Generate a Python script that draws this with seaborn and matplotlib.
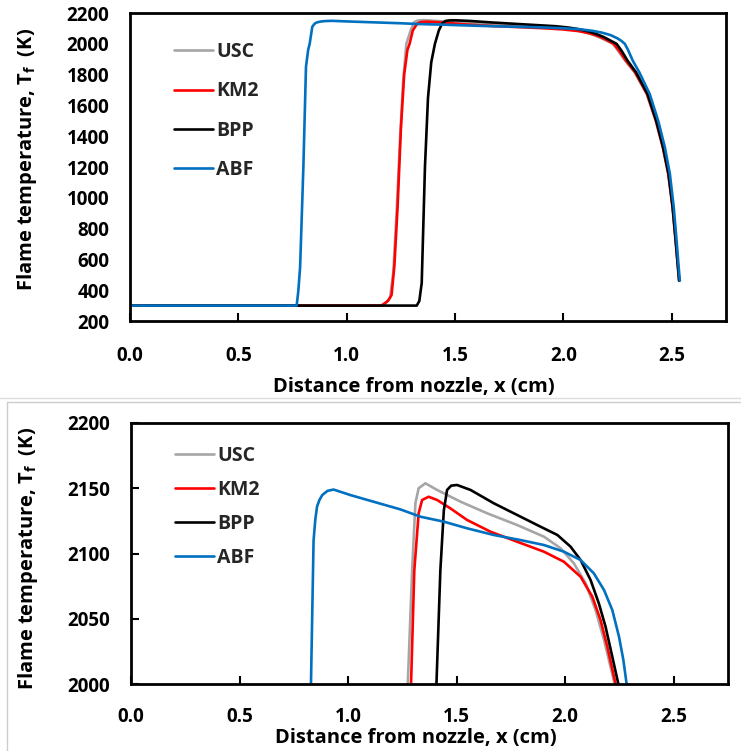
import numpy as np
import pandas as pd
import matplotlib
matplotlib.use("Agg")
import matplotlib.pyplot as plt
from matplotlib.lines import Line2D
import seaborn as sns

# ---------------- data ----------------
usc_x = [0, 1.17, 1.20, 1.215, 1.23, 1.245, 1.26, 1.275, 1.295, 1.31, 1.325, 1.356,
         1.41, 1.518, 1.641, 1.779, 1.902, 1.979, 2.04, 2.094, 2.14, 2.179, 2.228,
         2.252, 2.285, 2.328, 2.384, 2.425, 2.458, 2.483, 2.503, 2.517, 2.527, 2.533]
usc_t = [300, 300, 350, 520, 900, 1350, 1750, 2000, 2087, 2138.5, 2150, 2153.8,
         2148.7, 2139.7, 2130.8, 2121.8, 2112.9, 2104, 2092.5, 2077.2, 2056.7, 2033.7, 2000,
         1955, 1890, 1815, 1674, 1501, 1328, 1155, 938, 721, 560, 462]

km2_x = [0, 1.16, 1.19, 1.207, 1.22, 1.235, 1.25, 1.265, 1.28, 1.29, 1.305, 1.325, 1.341,
         1.371, 1.41, 1.471, 1.548, 1.656, 1.779, 1.902, 1.994, 2.071, 2.125, 2.163, 2.194,
         2.232, 2.257, 2.289, 2.331, 2.386, 2.427, 2.459, 2.484, 2.504, 2.518, 2.528, 2.534]
km2_t = [300, 300, 330, 369, 560, 950, 1450, 1800, 1960, 2000, 2087, 2130.8, 2141,
         2143.5, 2141, 2134.6, 2125.7, 2116.7, 2109, 2101.4, 2093.7, 2082.2, 2066.9, 2049, 2028.6,
         2000, 1955, 1890, 1815, 1674, 1501, 1328, 1155, 938, 721, 560, 462]

bpp_x = [0, 1.323, 1.335, 1.346, 1.361, 1.375, 1.39, 1.407, 1.425, 1.441, 1.456, 1.475,
         1.502, 1.564, 1.671, 1.779, 1.887, 1.964, 2.025, 2.071, 2.117, 2.155, 2.186, 2.217,
         2.245, 2.268, 2.296, 2.335, 2.388, 2.428, 2.460, 2.485, 2.504, 2.518, 2.528, 2.534]
bpp_t = [300, 300, 330, 447, 1202, 1650, 1880, 2000, 2087, 2133, 2148.7, 2152,
         2152.5, 2148.7, 2138.5, 2129.5, 2120.5, 2114.2, 2105.2, 2095, 2079.7, 2061.8, 2043.9, 2020.9,
         2000, 1955, 1890, 1815, 1674, 1501, 1328, 1155, 938, 721, 560, 462]

abf_x = [0, 0.769, 0.777, 0.785, 0.80, 0.812, 0.822, 0.829, 0.841, 0.849, 0.857, 0.868,
         0.881, 0.905, 0.933, 0.97, 1.01, 1.10, 1.241, 1.333, 1.441, 1.548, 1.671, 1.794,
         1.902, 1.994, 2.071, 2.132, 2.179, 2.217, 2.248, 2.268, 2.283,
         2.298, 2.320, 2.350, 2.398, 2.437, 2.468, 2.491, 2.509, 2.522, 2.531, 2.537]
abf_t = [300, 300, 400, 553, 1202, 1851, 1960, 2000, 2110, 2126, 2136, 2141,
         2144.8, 2148, 2149, 2147, 2144.8, 2140.5, 2133.8, 2128.2, 2124.4, 2119.3, 2114.2, 2110.3,
         2106.5, 2101.4, 2095, 2084.8, 2072, 2056.7, 2036.2, 2018.4, 2000,
         1960, 1890, 1815, 1674, 1501, 1328, 1155, 938, 721, 560, 462]

series_names = ["USC", "KM2", "BPP", "ABF"]
series_colors = ["#A6A6A6", "#FF0000", "#000000", "#0070C0"]

x_ticks = [0.0, 0.5, 1.0, 1.5, 2.0, 2.5]
y_ticks_top = [200, 400, 600, 800, 1000, 1200, 1400, 1600, 1800, 2000, 2200]
y_ticks_bottom = [2000, 2050, 2100, 2150, 2200]

x_label = "Distance from nozzle, x (cm)"
y_label = r"Flame temperature, T$_{\mathrm{f}}$  (K)"

# ---------------- build table ----------------
frames = []
for name, xs, ts in zip(series_names,
                        [usc_x, km2_x, bpp_x, abf_x],
                        [usc_t, km2_t, bpp_t, abf_t]):
    frames.append(pd.DataFrame({"x": xs, "T": ts, "model": name}))
df = pd.concat(frames, ignore_index=True)

# ---------------- style ----------------
sns.set_theme(style="white")
plt.rcParams["font.family"] = ["Open Sans", "DejaVu Sans"]
plt.rcParams["font.weight"] = "bold"
plt.rcParams["mathtext.fontset"] = "custom"
plt.rcParams["mathtext.rm"] = "Open Sans:bold"
plt.rcParams["mathtext.it"] = "Open Sans:bold"
plt.rcParams["mathtext.bf"] = "Open Sans:bold"

W, H = 741, 751
fig = plt.figure(figsize=(W / 100, H / 100), dpi=100)

def px_axes(left, top, right, bottom):
    return fig.add_axes([left / W, 1 - bottom / H, (right - left) / W, (bottom - top) / H])

ax1 = px_axes(130, 13, 726, 321)
ax2 = px_axes(131, 423, 728, 684)

palette = dict(zip(series_names, series_colors))

for ax, ylim, yticks, ytick_len, leg_y, lspacing, xpad, xlab_y, ylab_y in [
        (ax1, (200, 2200), y_ticks_top, 0, 0.906, 1.0, 18, -0.182, 0.526),
        (ax2, (2000, 2200), y_ticks_bottom, 6, 0.912, 0.72, 16.5, -0.167, 0.481)]:
    for name in series_names:
        sub = df[df["model"] == name]
        sns.lineplot(data=sub, x="x", y="T", ax=ax, color=palette[name],
                     linewidth=1.9, sort=False, estimator=None, label=name,
                     legend=False)
    ax.set_xlim(0, 2.75)
    ax.set_ylim(*ylim)
    ax.set_xticks(x_ticks)
    ax.set_xticklabels([f"{v:.1f}" for v in x_ticks])
    ax.set_yticks(yticks)
    ax.set_yticklabels([str(v) for v in yticks])
    ax.tick_params(axis="x", direction="in", length=6, width=1.5, pad=xpad,
                   labelsize=13.5, bottom=True, colors="black")
    ax.tick_params(axis="y", direction="in", length=ytick_len, width=1.5, pad=15,
                   labelsize=13.5, left=True, colors="black")
    for lab in ax.get_xticklabels() + ax.get_yticklabels():
        lab.set_fontweight("bold")
    for sp in ax.spines.values():
        sp.set_linewidth(2.0)
        sp.set_color("black")
    ax.set_xlabel(x_label, fontsize=14.5, fontweight="bold", color="black")
    ax.set_ylabel(y_label, fontsize=14.5, fontweight="bold", color="black")
    ax.xaxis.set_label_coords(0.4765, xlab_y)
    ax.yaxis.set_label_coords(-0.153, ylab_y)
    handles = [Line2D([0], [0], color=c, lw=1.9) for c in series_colors]
    ax.legend(handles, series_names, loc="upper left", bbox_to_anchor=(0.074, leg_y),
              frameon=False, borderpad=0, borderaxespad=0, handlelength=2.0,
              handletextpad=0.15, labelspacing=lspacing,
              prop={"family": "Open Sans", "weight": "bold", "size": 14})
    ax.grid(False)

# separator / frame of the lower picture
fig.add_artist(Line2D([0, 1], [1 - 398 / H, 1 - 398 / H], color="#DDDDDD", lw=1.0))
fig.add_artist(Line2D([7 / W, 1], [1 - 402 / H, 1 - 402 / H], color="#CCCCCC", lw=1.0))
fig.add_artist(Line2D([7 / W, 7 / W], [1 - 402 / H, 0], color="#CCCCCC", lw=1.0))

fig.savefig("out.png", dpi=100, facecolor="white")
